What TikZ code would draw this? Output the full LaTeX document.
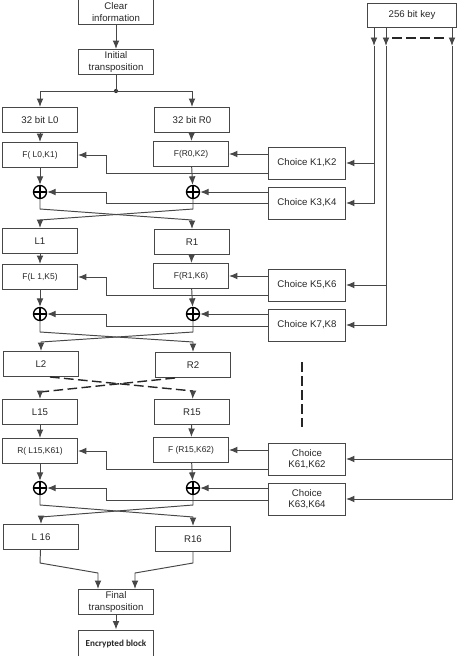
\documentclass[tikz,border=0pt]{standalone}
\usepackage{fontspec}
\setmainfont{Liberation Sans}
\newfontfamily\encfont{Carlito}
\usetikzlibrary{arrows.meta}

\begin{document}
\begin{tikzpicture}[->,>={Latex[length=1.7mm,width=1.35mm]},x=0.02cm,y=-0.02cm,
  line width=0.55pt,draw=black!72,
  blk/.style={draw,-,minimum width=1.5cm,minimum height=0.5cm,inner sep=1pt,align=center,text=black!85,font=\fontsize{5.5}{6.4}\selectfont},
  fbox/.style={blk,font=\fontsize{4.8}{5.6}\selectfont},
  chc/.style={blk,minimum width=1.54cm,minimum height=0.64cm},
  xr/.style={draw=black,-,circle,minimum size=0.26cm,inner sep=0pt,line width=0.75pt,
    path picture={\draw[-,black,line width=0.75pt] (path picture bounding box.north) -- (path picture bounding box.south)
      (path picture bounding box.west) -- (path picture bounding box.east);}},
  dsh/.style={-,dash pattern=on 5.5pt off 2.5pt,line width=0.8pt,draw=black!85}]

\clip (0,0) rectangle (474,656);

\node (clear) at (116,12) [blk] {Clear\\information};
\node (init) at (116,62) [blk] {Initial\\transposition};
\node (split) at (116,91) [coordinate] {};
\fill [black!80] (split) circle (1.2pt);

\node (key) at (412,15) [blk,minimum width=1.78cm,minimum height=0.48cm] {256 bit key};

% round 1
\node (l0) at (40,120) [blk] {32 bit L0};
\node (r0) at (192,120) [blk] {32 bit R0};
\node (fl1) at (40,155) [fbox] {F( L0,K1)};
\node (fr1) at (191,154) [fbox] {F(R0,K2)};
\node (xl1) at (40,192) [xr] {};
\node (xr1) at (193,192) [xr] {};
\node (ca1) at (307,163) [chc] {Choice K1,K2};
\node (cb1) at (307,203) [chc] {Choice K3,K4};

% round 2
\node (l1) at (40,241) [blk] {L1};
\node (r1) at (192,242) [blk] {R1};
\node (fl2) at (40,277) [fbox] {F(L 1,K5)};
\node (fr2) at (191,276) [fbox] {F(R1,K6)};
\node (xl2) at (40,314) [xr] {};
\node (xr2) at (193,314) [xr] {};
\node (ca2) at (307,285) [chc] {Choice K5,K6};
\node (cb2) at (307,325) [chc] {Choice K7,K8};

\node (l2) at (41,364) [blk] {L2};
\node (r2) at (193,365) [blk] {R2};

% round 16
\node (l15) at (40,412) [blk] {L15};
\node (r15) at (192,412) [blk] {R15};
\node (fl3) at (40,451) [fbox] {R( L15,K61)};
\node (fr3) at (191,450) [fbox] {F (R15,K62)};
\node (xl3) at (40,488) [xr] {};
\node (xr3) at (193,488) [xr] {};
\node (ca3) at (307,459) [chc] {Choice\\K61,K62};
\node (cb3) at (307,499) [chc] {Choice\\K63,K64};

\node (l16) at (41,537) [blk] {L 16};
\node (r16) at (193,539) [blk] {R16};
\node (final) at (116,602) [blk] {Final\\transposition};
\node (enc) at (116,644) [blk,minimum height=0.56cm,font=\encfont\bfseries\fontsize{5.2}{6}\selectfont] {Encrypted block};

\path [->]
    (clear) edge (init)
    (l0) edge (fl1)
    (r0) edge (fr1)
    (fl1) edge (xl1)
    (fr1) edge (xr1)
    (ca1.west |- fr1) edge (fr1)
    (cb1.west |- xr1) edge (xr1)
    (l1) edge (fl2)
    (r1) edge (fr2)
    (fl2) edge (xl2)
    (fr2) edge (xr2)
    (ca2.west |- fr2) edge (fr2)
    (cb2.west |- xr2) edge (xr2)
    (l15) edge (fl3)
    (r15) edge (fr3)
    (fl3) edge (xl3)
    (fr3) edge (xr3)
    (ca3.west |- fr3) edge (fr3)
    (cb3.west |- xr3) edge (xr3)
    (final) edge (enc)
;

\draw [-] (init) -- (split);
\draw (split) -| (l0);
\draw (split) -| (r0);

% feeds to the left column
\draw (ca1.west |- 0,173) -- (106,173) |- (fl1);
\draw (cb1.west |- 0,203) -- (106,203) |- (xl1);
\draw (ca2.west |- 0,295) -- (106,295) |- (fl2);
\draw (cb2.west |- 0,326) -- (106,326) |- (xl2);
\draw (ca3.west |- 0,469) -- (106,469) |- (fl3);
\draw (cb3.west |- 0,500) -- (106,500) |- (xl3);

% swaps
\draw (xl1) -- (40,209) -- (192,220) -- (r1);
\draw (xr1) -- (193,209) -- (40,220) -- (l1);
\draw (xl2) -- (40,332) -- (193,342) -- (r2);
\draw (xr2) -- (193,332) -- (41,342) -- (l2);
\draw (xl3) -- (40,505) -- (193,517) -- (r16);
\draw (xr3) -- (193,505) -- (41,517) -- (l16);

\node (d1) at (193,391) [coordinate] {};
\node (d2) at (40,392) [coordinate] {};
\draw [dsh] (l2.south -| 50,0) -- (d1);
\draw [dsh] (r2.south -| 175,0) -- (d2);
\draw (d1) -- (r15);
\draw (d2) -- (l15);

\node (gap1) at (302,362) [coordinate] {};
\node (gap2) at (302,427) [coordinate] {};
\draw [dsh] (gap1) -- (gap2);

% key lines
\node (ka) at (374,46) [coordinate] {};
\node (kb) at (386,46) [coordinate] {};
\node (kc) at (452,46) [coordinate] {};
\draw (key.south -| ka) -- (ka);
\draw (key.south -| kb) -- (kb);
\draw (key.south -| kc) -- (kc);
\draw [dsh,line width=0.7pt] (392,38) -- (445,38);
\draw (ka) |- (cb1);
\draw (ka |- ca1) -- (ca1);
\draw (kb) |- (cb2);
\draw (kb |- ca2) -- (ca2);
\draw (kc) |- (cb3);
\draw (kc |- ca3) -- (ca3);

% to the final transposition
\draw (l16) -- (40,563) -- (98,573) -- (final.north -| 98,0);
\draw (r16) -- (193,563) -- (135,573) -- (final.north -| 135,0);

\end{tikzpicture}
\end{document}
